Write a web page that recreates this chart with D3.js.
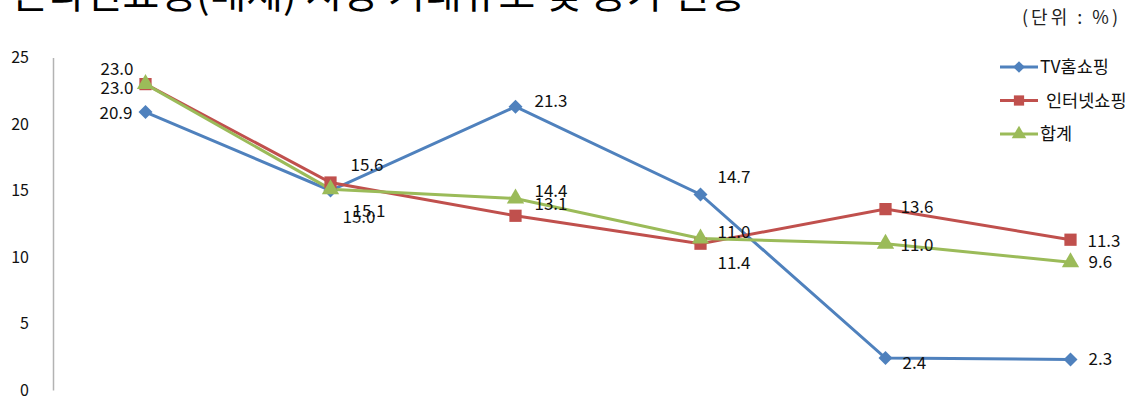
<!DOCTYPE html>
<html>
<head>
<meta charset="utf-8">
<script src="https://cdn.jsdelivr.net/npm/d3@7"></script>
<style>
  html, body { margin: 0; padding: 0; background: #fff; overflow: hidden; }
  svg { display: block; font-family: "Noto Sans CJK KR", "Noto Sans", sans-serif; }
</style>
</head>
<body>
<script>
// categories (x labels fall below the visible area)
var years = ["2003", "2004", "2005", "2006", "2007", "2008"];
var seriesNames = ["TV홈쇼핑", "인터넷쇼핑", "합계"];
var tvValues = [20.9, 15.0, 21.3, 14.7, 2.4, 2.3];
var netValues = [23.0, 15.6, 13.1, 11.0, 13.6, 11.3];
var totalValues = [23.0, 15.1, 14.4, 11.4, 11.0, 9.6];
var yTicks = [0, 5, 10, 15, 20, 25];

// label placement relative to each point [dx, dy, anchor]
var tvLabelPos = [[-13, 1, "end"], [12, 27, "start"], [19, -6, "start"], [17, -17, "start"], [17, 5, "start"], [18, 0, "start"]];
var netLabelPos = [[-12, -15, "end"], [20, -17, "start"], [19, -12, "start"], [17, -12, "start"], [15, -2, "start"], [17, 1, "start"]];
var totalLabelPos = [[-12, 4, "end"], [22, 22, "start"], [19, -7, "start"], [17, 25, "start"], [15, 1, "start"], [18, 0, "start"]];

var width = 1141, height = 401;

var svg = d3.select("body").append("svg")
    .attr("width", width)
    .attr("height", height);

//title, cropped at the top of the picture
svg.append("text")
    .attr("x", 12)
    .attr("y", 8)
    .style("font-size", "40px")
    .attr("fill", "#000")
    .text("온라인쇼핑(매체) 시장 거래규모 및 증가 현황");

svg.append("text")
    .attr("x", 1022)
    .attr("y", 24)
    .attr("textLength", 96)
    .attr("lengthAdjust", "spacing")
    .style("font-size", "18px")
    .attr("fill", "#222")
    .text("(단위 : %)");

//scales
var x = d3.scaleBand()
    .domain(years)
    .range([53, 53 + 185 * years.length]);
var y = d3.scaleLinear()
    .domain([0, 25])
    .range([390, 57.5]);

//y axis
var yAxis = svg.append("g")
    .attr("transform", "translate(53,0)")
    .call(d3.axisLeft(y).tickValues(yTicks).tickSize(0).tickPadding(24));
yAxis.select(".domain").attr("stroke", "#b3b3b3").attr("stroke-width", 1.5);
yAxis.selectAll("text")
    .style("font-size", "16px")
    .style("font-family", "\"Noto Sans CJK KR\", sans-serif")
    .attr("fill", "#111");

var series = [
    {name: seriesNames[0], values: tvValues, color: "#4f81bd", shape: d3.symbolSquare, size: 98, rot: 45, labels: tvLabelPos},
    {name: seriesNames[1], values: netValues, color: "#c0504d", shape: d3.symbolSquare, size: 150, rot: 0, labels: netLabelPos},
    {name: seriesNames[2], values: totalValues, color: "#9bbb59", shape: d3.symbolTriangle, size: 130, rot: 0, labels: totalLabelPos}
];

var cx = function (i) { return x(years[i]) + x.bandwidth() / 2; };

var line = d3.line()
    .x(function (d, i) { return cx(i); })
    .y(function (d) { return y(d); });

series.forEach(function (s) {
    svg.append("path")
        .datum(s.values)
        .attr("d", line)
        .attr("fill", "none")
        .attr("stroke", s.color)
        .attr("stroke-width", 3);
});

series.forEach(function (s) {
    svg.append("g").selectAll("path")
        .data(s.values)
        .enter().append("path")
        .attr("d", d3.symbol().type(s.shape).size(s.size))
        .attr("transform", function (d, i) {
            return "translate(" + cx(i) + "," + y(d) + ") rotate(" + s.rot + ")";
        })
        .attr("fill", s.color);
});

//data labels
series.forEach(function (s) {
    svg.append("g").selectAll("text")
        .data(s.values)
        .enter().append("text")
        .attr("x", function (d, i) { return cx(i) + s.labels[i][0]; })
        .attr("y", function (d, i) { return y(d) + s.labels[i][1]; })
        .attr("dy", "0.35em")
        .attr("text-anchor", function (d, i) { return s.labels[i][2]; })
        .style("font-size", "17px")
        .attr("fill", "#111")
        .text(function (d) { return d.toFixed(1); });
});

//legend
var legend = svg.append("g");
series.forEach(function (s, i) {
    var ly = 67 + i * 33.5;
    legend.append("line")
        .attr("x1", 1000).attr("x2", 1038)
        .attr("y1", ly).attr("y2", ly)
        .attr("stroke", s.color)
        .attr("stroke-width", 3);
    legend.append("path")
        .attr("d", d3.symbol().type(s.shape).size(s.size * 0.7))
        .attr("transform", "translate(1019," + ly + ") rotate(" + s.rot + ")")
        .attr("fill", s.color);
    legend.append("text")
        .attr("x", i === 1 ? 1046 : 1040)
        .attr("y", ly)
        .attr("dy", "0.35em")
        .style("font-size", "17.5px")
        .attr("fill", "#111")
        .text(s.name);
});
</script>
</body>
</html>
